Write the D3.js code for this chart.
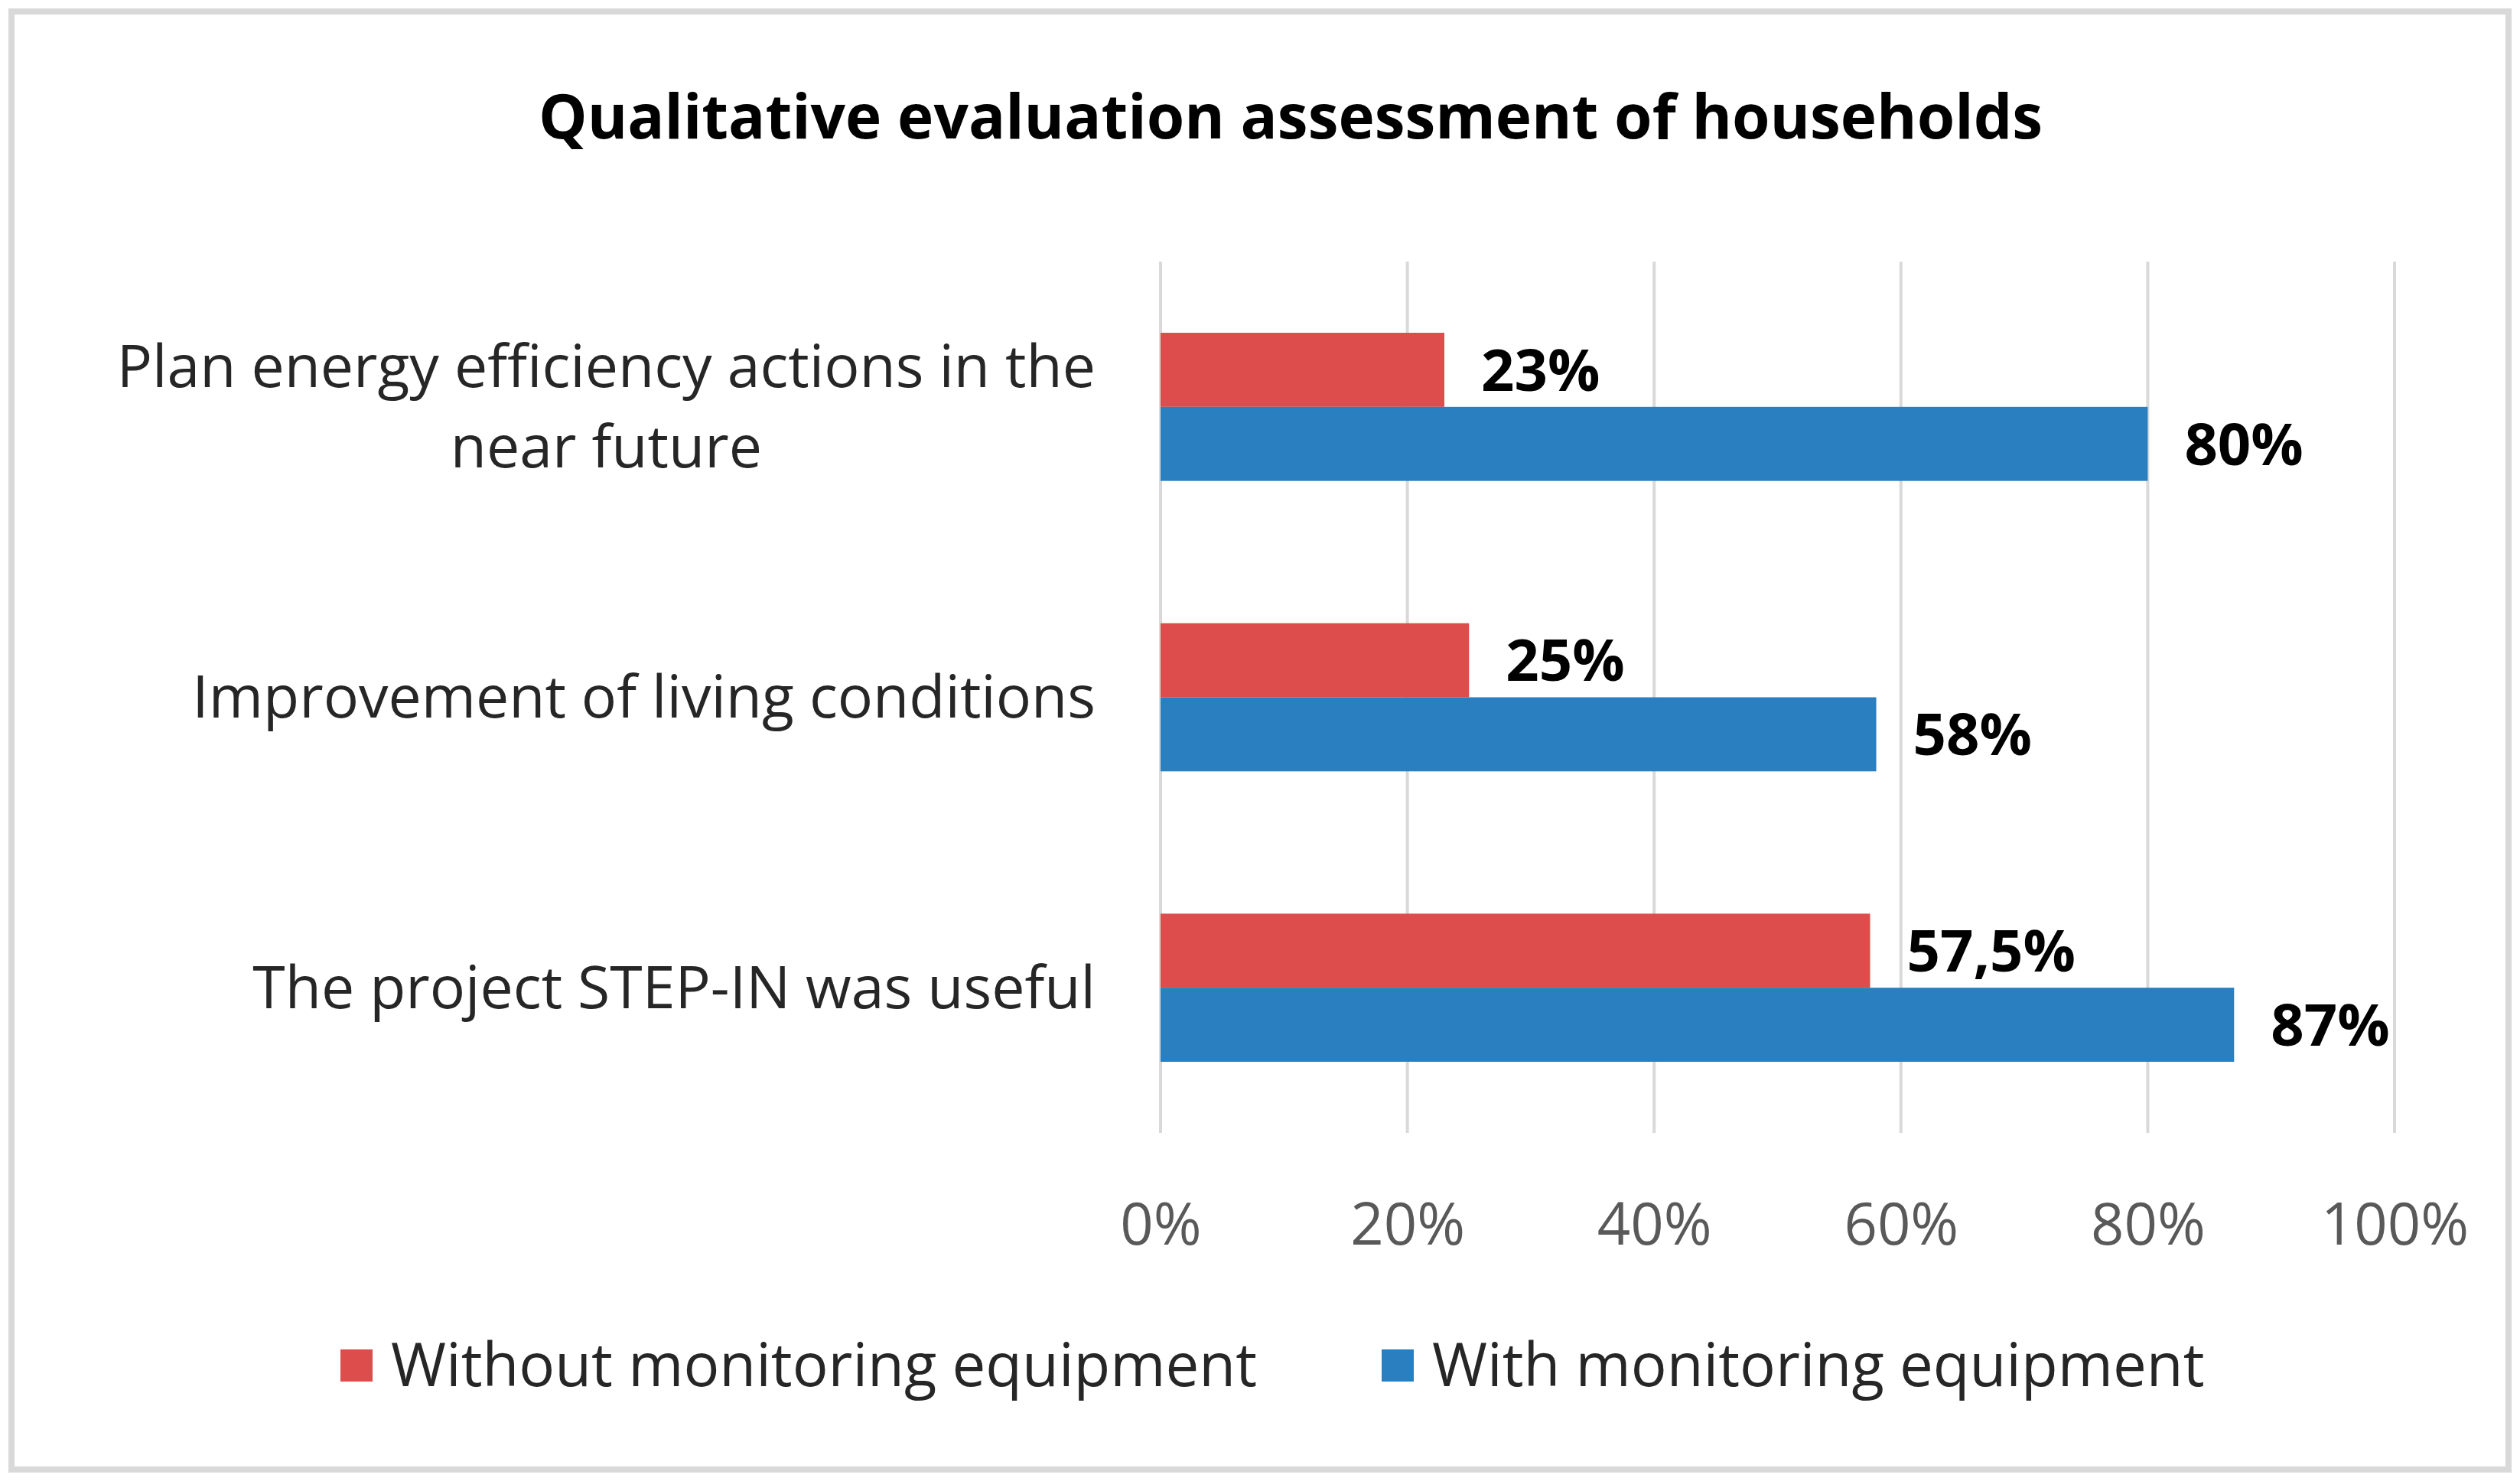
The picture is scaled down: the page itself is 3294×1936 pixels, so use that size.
<!DOCTYPE html>
<html>
<head>
<meta charset="utf-8">
<script src="https://cdnjs.cloudflare.com/ajax/libs/d3/7.8.5/d3.min.js"></script>
<style>
  body { margin: 0; background: #ffffff; }
  svg text { font-family: "Open Sans", "Noto Sans", sans-serif; }
</style>
</head>
<body>
<div id="chart"></div>
<script>
// data
let titulo = "Qualitative evaluation assessment of households"
let categorias = ["Plan energy efficiency actions in the near future", "Improvement of living conditions", "The project STEP-IN was useful"]
let categoriaLineas = [["Plan energy efficiency actions in the", "near future"], ["Improvement of living conditions"], ["The project STEP-IN was useful"]]
let series = ["Without monitoring equipment", "With monitoring equipment"]
let sinEquipo = [23, 25, 57.5]
let conEquipo = [80, 58, 87]
let ticks = [0, 20, 40, 60, 80, 100]
let colores = ["#dc4d4b", "#2a7fc0"]

let W = 3294, H = 1936

let svg = d3.select("#chart").append("svg")
    .attr("width", W)
    .attr("height", H)

// outer frame
svg.append("rect")
    .attr("x", 15).attr("y", 15)
    .attr("width", W - 30).attr("height", H - 30)
    .attr("fill", "#ffffff")
    .attr("stroke", "#d9d9d9")
    .attr("stroke-width", 8)

let x = d3.scaleLinear().domain([0, 100]).range([1517, 3130])
let y = d3.scaleBand().domain(categorias).range([342, 1481]).paddingInner(0.49).paddingOuter(0.245)
let ySub = d3.scaleBand().domain(series).range([0, y.bandwidth()])

// gridlines
svg.append("g")
    .selectAll("line")
    .data(ticks)
    .enter().append("line")
    .attr("x1", d => x(d)).attr("x2", d => x(d))
    .attr("y1", 342).attr("y2", 1481)
    .attr("stroke", "#d9d9d9")
    .attr("stroke-width", 4)

// x axis labels
let xAxisG = svg.append("g")
    .attr("transform", "translate(0,1600)")
    .call(d3.axisBottom(x).tickValues(ticks).tickFormat(d => d + "%").tickSize(0).tickPadding(0))
xAxisG.select(".domain").remove()
xAxisG.selectAll("text")
    .attr("dy", "0.35em")
    .attr("fill", "#595959")
    .style("font-size", "76px")
    .style("font-family", "'Open Sans', sans-serif")

// bars
let datos = []
categorias.forEach(function (c, i) {
    datos.push({ cat: c, serie: series[0], valor: sinEquipo[i], color: colores[0] })
    datos.push({ cat: c, serie: series[1], valor: conEquipo[i], color: colores[1] })
})

svg.append("g")
    .selectAll("rect")
    .data(datos)
    .enter().append("rect")
    .attr("x", x(0))
    .attr("y", d => y(d.cat) + ySub(d.serie))
    .attr("width", d => x(d.valor) - x(0))
    .attr("height", ySub.bandwidth())
    .attr("fill", d => d.color)

// data labels
svg.append("g")
    .selectAll("text")
    .data(datos)
    .enter().append("text")
    .attr("x", d => x(d.valor) + 48)
    .attr("y", d => y(d.cat) + ySub(d.serie) + ySub.bandwidth() / 2)
    .attr("dy", "0.36em")
    .attr("fill", "#000000")
    .style("font-size", "76px")
    .style("font-weight", "bold")
    .text(d => String(d.valor).replace(".", ",") + "%")

// category labels, lines centred on each other, block right aligned
let labelRight = 1432
let lineH = 105
categorias.forEach(function (c, i) {
    let lineas = categoriaLineas[i]
    let cy = y(c) + y.bandwidth() / 2
    let g = svg.append("g")
    let textos = lineas.map(function (l, k) {
        return g.append("text")
            .attr("y", cy + (k - (lineas.length - 1) / 2) * lineH)
            .attr("dy", "0.35em")
            .attr("text-anchor", "middle")
            .attr("fill", "#262626")
            .style("font-size", "77px")
            .text(l)
    })
    let maxW = d3.max(textos, t => t.node().getComputedTextLength())
    textos.forEach(t => t.attr("x", labelRight - maxW / 2))
})

// title
svg.append("text")
    .attr("x", 1687)
    .attr("y", 153)
    .attr("dy", "0.35em")
    .attr("text-anchor", "middle")
    .attr("fill", "#000000")
    .style("font-size", "80px")
    .style("font-weight", "bold")
    .text(titulo)

// legend
let legendX = [445, 1806]
let legend = svg.append("g")
series.forEach(function (s, i) {
    legend.append("rect")
        .attr("x", legendX[i]).attr("y", 1764)
        .attr("width", 42).attr("height", 42)
        .attr("fill", colores[i])
    legend.append("text")
        .attr("x", legendX[i] + 66)
        .attr("y", 1785)
        .attr("dy", "0.35em")
        .attr("fill", "#262626")
        .style("font-size", "78px")
        .text(s)
})
</script>
</body>
</html>
